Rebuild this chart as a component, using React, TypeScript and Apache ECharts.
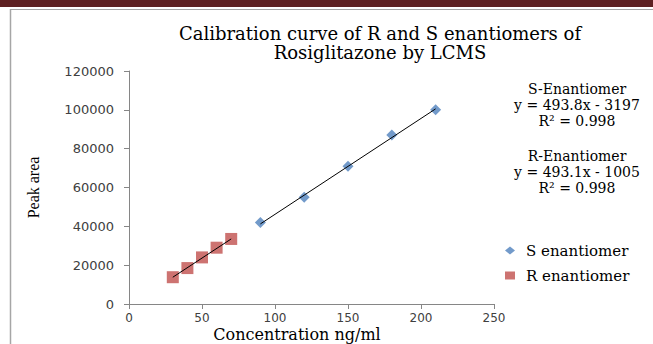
import React, { useEffect, useRef } from "react";
import * as echarts from "echarts";

const sConc = [90, 120, 150, 180, 210];
const sArea = [42000, 55000, 71000, 87000, 100000];
const rConc = [30, 40, 50, 60, 70];
const rArea = [13800, 18500, 24000, 29000, 33500];
const sTrend = [[90, 41245], [210, 100501]];
const rTrend = [[30, 13788], [70, 33512]];
const titleLines = ["Calibration curve of R and S enantiomers of", "Rosiglitazone by LCMS"];
const sEq = ["S-Enantiomer", "y = 493.8x - 3197", "R² = 0.998"];
const rEq = ["R-Enantiomer", "y = 493.1x - 1005", "R² = 0.998"];
const legendNames = ["S enantiomer", "R enantiomer"];
const xTitle = "Concentration ng/ml";

const SERIF = "'DejaVu Serif', serif";
const SERIF2 = "'Liberation Serif', serif";
const SANS = "'DejaVu Sans', sans-serif";

export default function App() {
  const ref = useRef<HTMLDivElement>(null);
  useEffect(() => {
    document.body.style.margin = "0";
    const chart = echarts.init(ref.current!, null, { renderer: "svg" });
    const eqText = (lines: string[], y: number) =>
      lines.map((t, i) => ({
        type: "text",
        x: 577,
        y: y + i * 16,
        style: { text: t, fill: "#000", font: `14px ${SERIF}`, textAlign: "center", textVerticalAlign: "middle" },
      }));
    chart.setOption({
      animation: false,
      backgroundColor: "#fff",
      grid: { left: 129, right: 159, top: 71, bottom: 40 },
      xAxis: {
        type: "value",
        min: 0,
        max: 250,
        interval: 50,
        axisLine: { lineStyle: { color: "#868686" } },
        axisTick: { show: true, length: 5, lineStyle: { color: "#868686" } },
        axisLabel: { fontFamily: SANS, fontSize: 12, color: "#404040", margin: 8 },
        splitLine: { show: false },
      },
      yAxis: {
        type: "value",
        min: 0,
        max: 120000,
        interval: 20000,
        name: "Peak area",
        nameLocation: "middle",
        nameGap: 88,
        nameTextStyle: { fontFamily: SERIF2, fontSize: 16, color: "#000" },
        axisLine: { show: true, lineStyle: { color: "#868686" } },
        axisTick: { show: true, length: 5, lineStyle: { color: "#868686" } },
        axisLabel: { fontFamily: SANS, fontSize: 13, color: "#404040", margin: 15, formatter: (v: number) => String(v) },
        splitLine: { show: false },
      },
      legend: {
        data: [
          { name: legendNames[0], icon: "diamond" },
          { name: legendNames[1], icon: "rect" },
        ],
        orient: "vertical",
        left: 500,
        top: 238,
        itemGap: 10,
        itemWidth: 10,
        itemHeight: 8,
        textStyle: { fontFamily: SERIF, fontSize: 15, color: "#000", padding: [0, 0, 0, 6] },
      },
      series: [
        {
          name: legendNames[0],
          type: "scatter",
          symbol: "diamond",
          symbolSize: 11,
          itemStyle: { color: "#4f81bd" },
          data: sConc.map((x, i) => [x, sArea[i]]),
          z: 3,
        },
        {
          name: legendNames[1],
          type: "scatter",
          symbol: "rect",
          symbolSize: 12,
          itemStyle: { color: "#c0504d" },
          data: rConc.map((x, i) => [x, rArea[i]]),
          z: 3,
        },
        {
          name: "S trend",
          type: "line",
          showSymbol: false,
          symbol: "none",
          lineStyle: { color: "#000", width: 1 },
          data: sTrend,
          z: 4,
        },
        {
          name: "R trend",
          type: "line",
          showSymbol: false,
          symbol: "none",
          lineStyle: { color: "#000", width: 1 },
          data: rTrend,
          z: 4,
        },
      ],
      graphic: [
        { type: "rect", shape: { x: 0, y: 0, width: 653, height: 7 }, style: { fill: "#5e2022" } },
        { type: "line", shape: { x1: 10, y1: 9.5, x2: 653, y2: 9.5 }, style: { stroke: "#a6a6a6", lineWidth: 1 } },
        { type: "line", shape: { x1: 10.5, y1: 9, x2: 10.5, y2: 344 }, style: { stroke: "#a6a6a6", lineWidth: 1.5 } },
        ...titleLines.map((t, i) => ({
          type: "text",
          x: 380,
          y: 33 + i * 19,
          style: { text: t, fill: "#000", font: `18px ${SERIF}`, textAlign: "center", textVerticalAlign: "middle" },
        })),
        {
          type: "text",
          x: 297,
          y: 334,
          style: { text: xTitle, fill: "#000", font: `16px ${SERIF}`, textAlign: "center", textVerticalAlign: "middle" },
        },
        ...eqText(sEq, 89),
        ...eqText(rEq, 156),
      ],
    });
    return () => chart.dispose();
  }, []);
  return <div ref={ref} style={{ width: 653, height: 344 }} />;
}
